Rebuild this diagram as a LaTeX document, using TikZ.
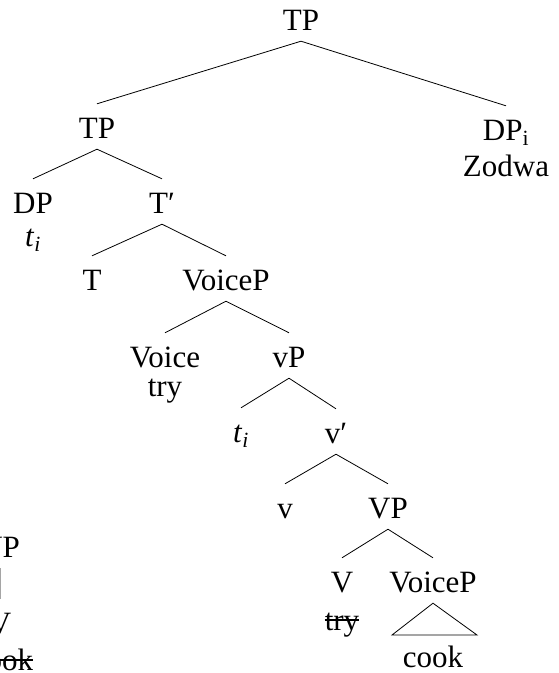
\documentclass[tikz,border=0pt]{standalone}
\usepackage{fontspec}
\setmainfont{Liberation Serif}
\usetikzlibrary{positioning}
\tikzset{
every node/.style={font=\fontsize{31}{37}\selectfont}, % big serif labels
cat/.style={anchor=base, text height=30pt, text depth=7pt, inner sep=4pt}, % category labels of the tree
leaf/.style={anchor=base, inner sep=0pt}, % words under a label
branch/.style={line width=0.8pt}, % the tree lines
strike/.style={line width=1.3pt}, % crossed out copies
}

\begin{document}
\begin{tikzpicture}[x=1pt, y=-1pt]
      \useasboundingbox (0,0) rectangle (558,673);

      % main tree
      \node[cat] (TP0) at (301,30) {TP};
      \node[cat] (TP1) at (97,138) {TP};
      \node[cat] (DPi) at (506,140) {DP\textsubscript{i}};
      \node[leaf] (zodwa) at (506,176) {Zodwa};
      \node[cat] (DP) at (33,213) {DP};
      \node[leaf] (trace1) at (33,246) {\textit{t}\textsubscript{\textit{i}}};
      \node[cat] (Tbar) at (162,213) {T′};
      \node[cat] (T) at (92,290) {T};
      \node[cat] (VoiceP1) at (226,290) {VoiceP};
      \node[cat] (Voice) at (165,367) {Voice};
      \node[leaf] (try1) at (165,396) {try};
      \node[cat] (vP) at (289,367) {vP};
      \node[cat] (trace2) at (241,442) {\textit{t}\textsubscript{\textit{i}}};
      \node[cat] (vbar) at (336,443) {v′};
      \node[cat] (v) at (285,518) {v};
      \node[cat] (VP) at (388,518) {VP};
      \node[cat] (V) at (342,592) {V};
      \node[leaf] (try2) at (342,630) {try};
      \node[cat] (VoiceP2) at (433,592) {VoiceP};
      \node[leaf] (cook) at (433,667) {cook};
      \coordinate (triL) at (392,635);
      \coordinate (triR) at (477,635);

      % cut off tree on the left
      \node[cat] (lVP) at (0,557) {VP};
      \node[cat] (lV) at (0,633) {V};
      \node[leaf] (lcook) at (3,670) {cook};

      \draw[branch] (TP0.south) -- (TP1.north)
      (TP0.south) -- (DPi.north)
      (TP1.south) -- (DP.north)
      (TP1.south) -- (Tbar.north)
      (Tbar.south) -- (T.north)
      (Tbar.south) -- (VoiceP1.north)
      (VoiceP1.south) -- (Voice.north)
      (VoiceP1.south) -- (vP.north)
      (vP.south) -- (trace2.north)
      (vP.south) -- (vbar.north)
      (vbar.south) -- (v.north)
      (vbar.south) -- (VP.north)
      (VP.south) -- (V.north)
      (VP.south) -- (VoiceP2.north)
      (lVP.south) -- (lV.north);
      \draw[branch] (VoiceP2.south) -- (triL) -- (triR) -- cycle;

      \draw[strike] ([yshift=10pt]try2.base west) -- ([yshift=10pt]try2.base east);
      \draw[strike] ([yshift=10pt]lcook.base west) -- ([yshift=10pt]lcook.base east);
    \end{tikzpicture}
\end{document}
